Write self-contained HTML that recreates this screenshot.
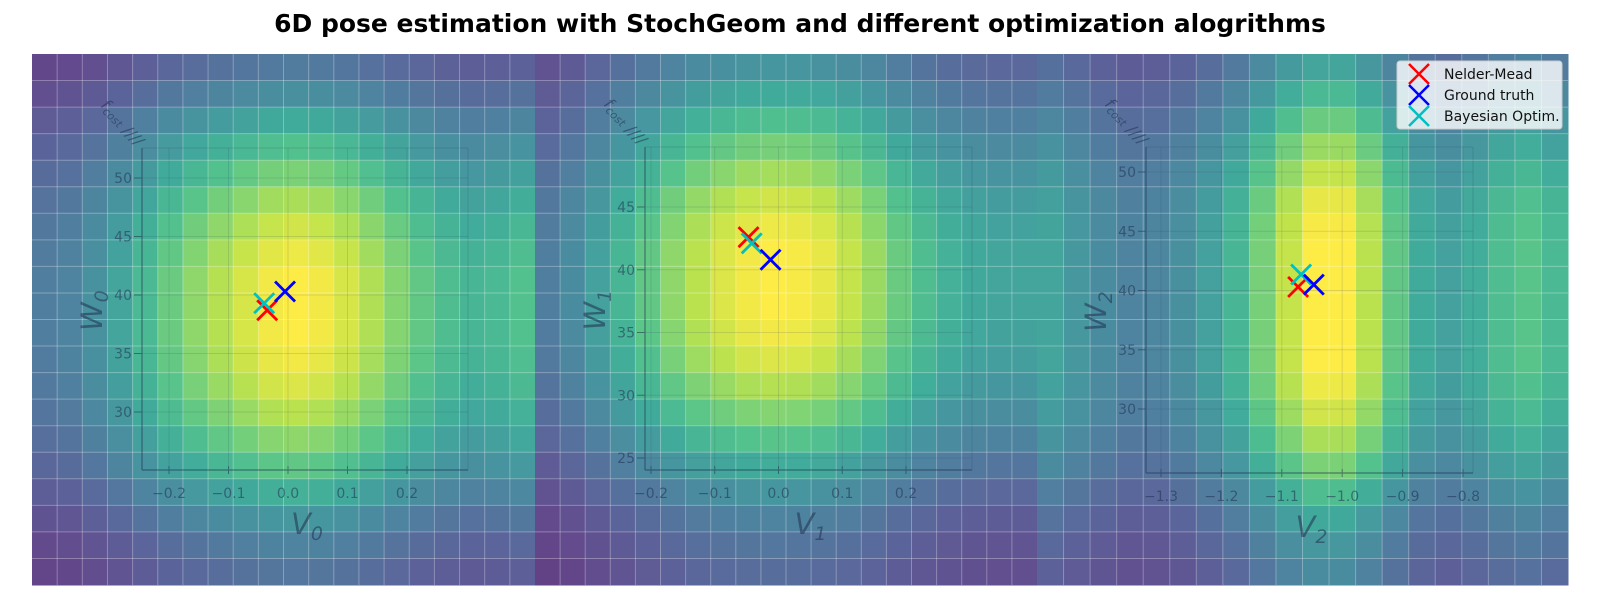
<!DOCTYPE html>
<html><head><meta charset="utf-8"><style>
body{margin:0;background:#fff;width:1600px;height:600px;overflow:hidden;font-family:"Liberation Sans","DejaVu Sans",sans-serif}
</style></head><body>
<svg id="chart" width="1600" height="600" xmlns="http://www.w3.org/2000/svg">
<text x="800" y="32" text-anchor="middle" font-size="25" font-weight="bold" fill="#000" font-family="DejaVu Sans, Liberation Sans, sans-serif">6D pose estimation with StochGeom and different optimization alogrithms</text>
<g id="panels"></g>
</svg>
<script>
// ---- data ----
const colProfile0 = [0.33,0.36,0.43,0.52,0.62,0.72,0.8,0.87,0.93,0.98,1,0.98,0.93,0.86,0.78,0.7,0.64,0.6,0.62,0.66];
const rowProfile0 = [0.32,0.42,0.55,0.66,0.76,0.85,0.92,0.97,1,1,1,0.98,0.94,0.88,0.8,0.7,0.58,0.46,0.36,0.3];
const colProfile1 = [0.33,0.4,0.5,0.6,0.7,0.8,0.88,0.94,0.98,1,0.99,0.96,0.9,0.82,0.72,0.64,0.58,0.54,0.52,0.52];
const rowProfile1 = [0.45,0.55,0.65,0.75,0.84,0.92,0.97,1,1,1,0.98,0.94,0.87,0.78,0.68,0.56,0.45,0.36,0.3,0.26];
const colProfile2 = [0.52,0.46,0.4,0.36,0.37,0.42,0.5,0.6,0.75,0.9,1,1,0.88,0.7,0.55,0.5,0.56,0.64,0.68,0.62];
const rowProfile2 = [0.52,0.62,0.72,0.82,0.9,0.96,0.99,1,1,1,1,1,0.97,0.92,0.85,0.76,0.64,0.54,0.46,0.4];
const xTicks0 = [-0.2,-0.1,0.0,0.1,0.2];
const yTicks0 = [30,35,40,45,50];
const xTicks1 = [-0.2,-0.1,0.0,0.1,0.2];
const yTicks1 = [25,30,35,40,45];
const xTicks2 = [-1.3,-1.2,-1.1,-1.0,-0.9,-0.8];
const yTicks2 = [30,35,40,45,50];
const nelderMeadX = [-0.035,-0.047,-1.073];
const nelderMeadY = [38.7,42.6,40.3];
const groundTruthX = [-0.005,-0.0125,-1.047];
const groundTruthY = [40.3,40.8,40.5];
const bayesX = [-0.04,-0.042,-1.068];
const bayesY = [39.3,42.1,41.35];
const seriesNames = ["Nelder-Mead","Ground truth","Bayesian Optim."];
const seriesColors = ["#ff0000","#0000ff","#00c0c0"];

{
const panelBox = [{x0:32,x1:535},{x0:535,x1:1037},{x0:1037,x1:1568}];
const plotTop=54,plotBottom=585;
const axes = [
 {ax:142,ay0:148,ay1:470,ax1:468, xs:[-0.2,169,0.2,407], ys:[30,412,50,178], lab:"0"},
 {ax:645,ay0:147,ay1:470,ax1:972, xs:[-0.2,651,0.2,906], ys:[25,458,45,207], lab:"1"},
 {ax:1146,ay0:147,ay1:473,ax1:1473, xs:[-1.3,1161,-0.8,1463], ys:[30,409,50,172], lab:"2"}
];
const cols=[colProfile0,colProfile1,colProfile2], rows=[rowProfile0,rowProfile1,rowProfile2];
const xt=[xTicks0,xTicks1,xTicks2], yt=[yTicks0,yTicks1,yTicks2];

const vir=[[68,1,84],[72,40,120],[62,74,137],[49,104,142],[38,130,142],[31,158,137],[53,183,121],[109,205,89],[180,222,44],[253,231,37]];
function viridis(t){t=Math.max(0,Math.min(1,t));const f=t*9,i=Math.min(8,Math.floor(f)),r=f-i;
 const c=vir[i].map((v,k)=>v+(vir[i+1][k]-v)*r).map(v=>Math.round(v*0.85+255*0.15));
 return `rgb(${c[0]},${c[1]},${c[2]})`;}
const NS="http://www.w3.org/2000/svg";
function mk(tag,attrs,parent){const e=document.createElementNS(NS,tag);for(const k in attrs)e.setAttribute(k,attrs[k]);parent.appendChild(e);return e;}
const root=document.getElementById('panels');
const fmt=v=>(v<0?"\u2212":"")+Math.abs(v).toFixed(1);

panelBox.forEach((pb,p)=>{
 const g=mk('g',{},root);
 
 
 const C=cols[p],R=rows[p],nc=C.length,nr=R.length;
 const cw=(pb.x1-pb.x0)/nc,rh=(plotBottom-plotTop)/nr;
 for(let j=0;j<nr;j++)for(let i=0;i<nc;i++){
  const r=mk('rect',{x:pb.x0+i*cw,y:plotTop+j*rh,width:cw+0.5,height:rh+0.5,fill:viridis(C[i]*R[j])},g);
  
  
 }
 for(let i=1;i<nc;i++)mk('line',{x1:pb.x0+i*cw,y1:plotTop,x2:pb.x0+i*cw,y2:plotBottom,stroke:'#fff','stroke-opacity':0.3,'stroke-width':1},g);
 for(let j=1;j<nr;j++)mk('line',{x1:pb.x0,y1:plotTop+j*rh,x2:pb.x1,y2:plotTop+j*rh,stroke:'#fff','stroke-opacity':0.3,'stroke-width':1},g);
 const a=axes[p];
 const sx=v=>a.xs[1]+(v-a.xs[0])/(a.xs[2]-a.xs[0])*(a.xs[3]-a.xs[1]);
 const sy=v=>a.ys[1]+(v-a.ys[0])/(a.ys[2]-a.ys[0])*(a.ys[3]-a.ys[1]);
 const ac='#1f3050';
 const ag=mk('g',{opacity:0.55},g);
 
 
 mk('line',{x1:a.ax,y1:a.ay0,x2:a.ax,y2:a.ay1,stroke:ac,'stroke-width':1.2},ag);
 mk('line',{x1:a.ax,y1:a.ay1,x2:a.ax1,y2:a.ay1,stroke:ac,'stroke-width':1.2},ag);
 mk('line',{x1:a.ax,y1:a.ay0,x2:a.ax1,y2:a.ay0,stroke:ac,'stroke-width':0.8,'stroke-opacity':0.4},ag);
 mk('line',{x1:a.ax1,y1:a.ay0,x2:a.ax1,y2:a.ay1,stroke:ac,'stroke-width':0.8,'stroke-opacity':0.4},ag);
 xt[p].forEach(v=>{const x=sx(v);
  mk('line',{x1:x,y1:a.ay1-4,x2:x,y2:a.ay1+4,stroke:ac},ag);
  mk('line',{x1:x,y1:a.ay0,x2:x,y2:a.ay1,stroke:ac,'stroke-opacity':0.25},ag);
  const t=mk('text',{x:x,y:a.ay1+28,'text-anchor':'middle','font-size':14,fill:ac,'font-family':'DejaVu Sans, sans-serif'},ag);t.textContent=fmt(v);
  
  
 });
 yt[p].forEach(v=>{const y=sy(v);
  mk('line',{x1:a.ax-8,y1:y,x2:a.ax,y2:y,stroke:ac},ag);
  mk('line',{x1:a.ax,y1:y,x2:a.ax1,y2:y,stroke:ac,'stroke-opacity':0.25},ag);
  const t=mk('text',{x:a.ax-10,y:y+5,'text-anchor':'end','font-size':14,fill:ac,'font-family':'DejaVu Sans, sans-serif'},ag);t.textContent=String(v);
  
  
 });
 const xl=mk('text',{x:(a.ax+a.ax1)/2-14,y:a.ay1+64,'font-size':29,'font-style':'italic',fill:ac,'font-family':'DejaVu Sans, sans-serif'},ag);
 xl.innerHTML='V<tspan font-size="19" dy="6">'+a.lab+'</tspan>';
 
 
 const yl=mk('text',{transform:`translate(${a.ax-40},${(a.ay0+a.ay1)/2+22}) rotate(-90)`,'font-size':29,'font-style':'italic',fill:ac,'font-family':'DejaVu Sans, sans-serif'},ag);
 yl.innerHTML='W<tspan font-size="19" dy="6">'+a.lab+'</tspan>';
 
 
 const zl=mk('text',{transform:`translate(${a.ax-42},${a.ay0-42}) rotate(45)`,'font-size':16,'font-style':'italic',fill:ac,'font-family':'DejaVu Sans, sans-serif'},ag);
 zl.innerHTML='f<tspan font-size="11" dy="3">cost</tspan> ////';
 
 
 const sets=[[nelderMeadX,nelderMeadY],[groundTruthX,groundTruthY],[bayesX,bayesY]];
 [0,2,1].forEach(s=>{const x=sx(sets[s][0][p]),y=sy(sets[s][1][p]),d=10;
  const m=mk('path',{d:`M${x-d},${y-d}L${x+d},${y+d}M${x-d},${y+d}L${x+d},${y-d}`,stroke:seriesColors[s],'stroke-width':2.8,fill:'none'},g);
  
  
 });
});
const lg=mk('g',{},root);


mk('rect',{x:1397,y:61,width:165,height:68,rx:3,fill:'#fff','fill-opacity':0.8,stroke:'#ccc'},lg);
seriesNames.forEach((n,i)=>{const y=74+i*21,x=1419,d=10;
 const e=mk('g',{},lg);
 
 
 mk('path',{d:`M${x-d},${y-d}L${x+d},${y+d}M${x-d},${y+d}L${x+d},${y-d}`,stroke:seriesColors[i],'stroke-width':2.5},e);
 const t=mk('text',{x:1444,y:y+5,'font-size':14,fill:'#111','font-family':'DejaVu Sans, sans-serif'},e);t.textContent=n;
});
}
</script>
</body></html>
